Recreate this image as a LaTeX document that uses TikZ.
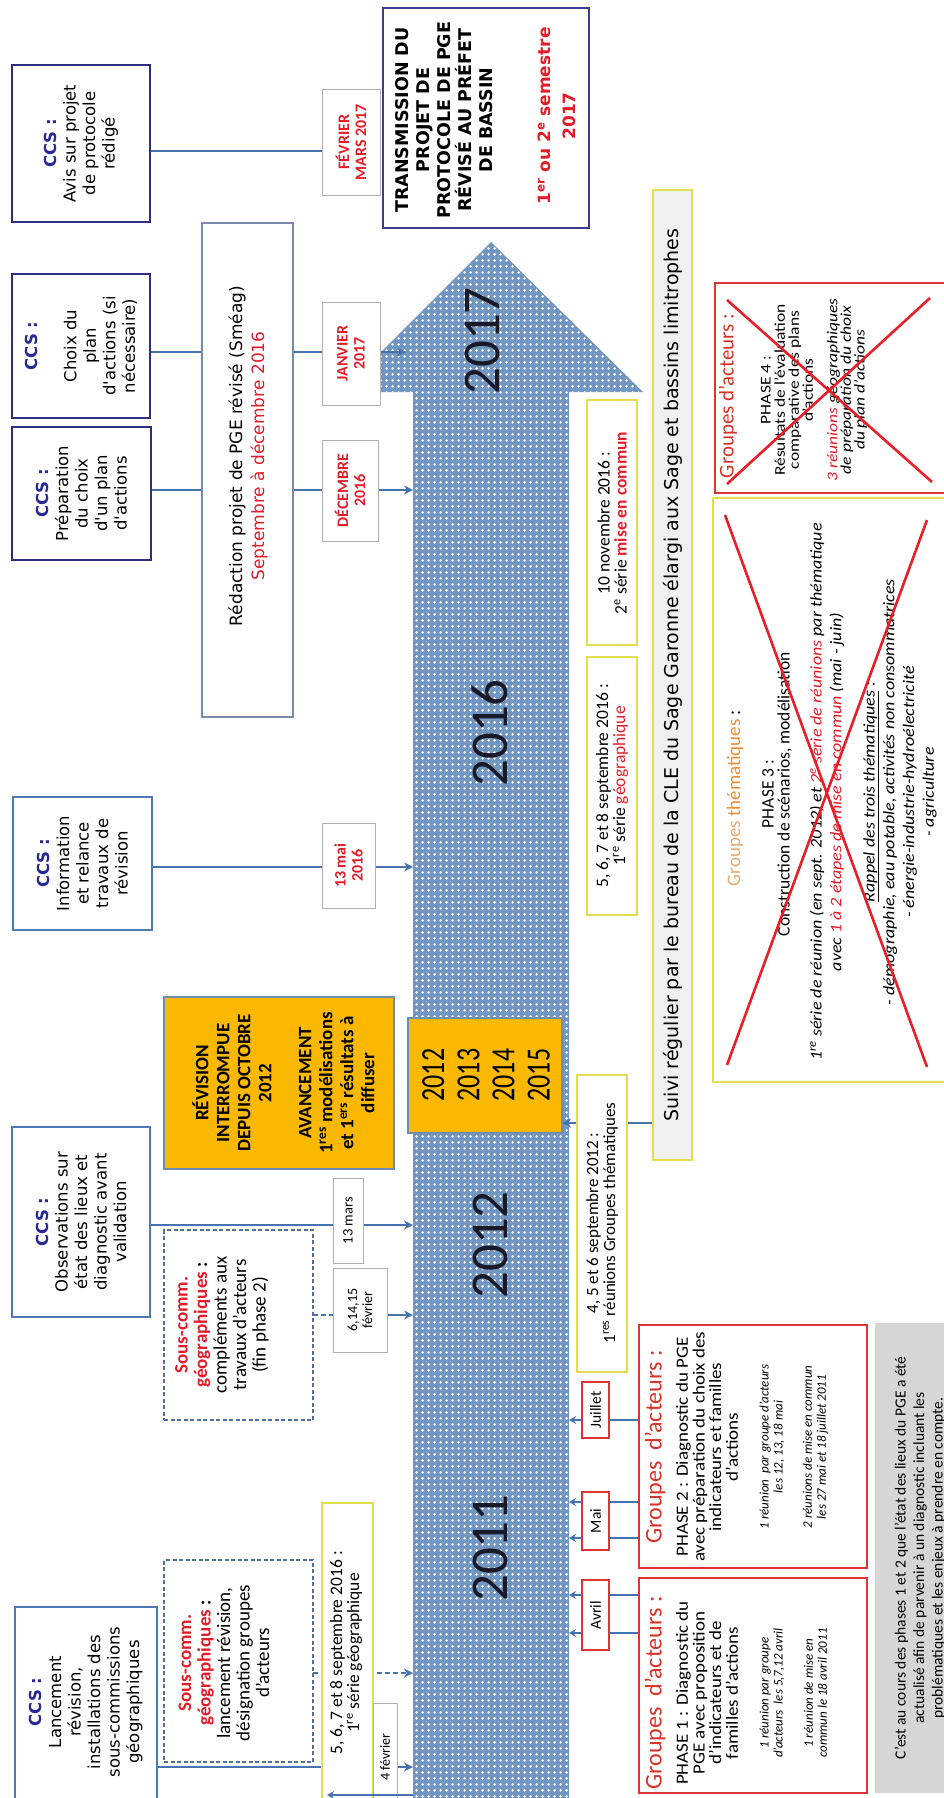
\documentclass[tikz,border=0pt]{standalone}
\usepackage{fontspec}
\setmainfont{Carlito}
\newfontfamily\djv{DejaVu Sans}
\usetikzlibrary{arrows.meta,patterns.meta}
\definecolor{ccsblue}{RGB}{40,40,150}
\definecolor{navyb}{RGB}{45,45,130}
\definecolor{steelb}{RGB}{79,120,180}
\definecolor{connc}{RGB}{70,115,175}
\definecolor{redtxt}{RGB}{228,28,40}
\definecolor{redb}{RGB}{222,52,52}
\definecolor{yelb}{RGB}{225,222,80}
\definecolor{orangef}{RGB}{250,185,0}
\definecolor{orb}{RGB}{110,140,180}
\definecolor{grayb}{RGB}{175,175,175}
\definecolor{titred}{RGB}{215,50,40}
\definecolor{phtan}{RGB}{230,170,110}
\definecolor{phor}{RGB}{238,140,50}
\definecolor{arrowblue}{RGB}{114,150,194}
\definecolor{yearc}{RGB}{25,25,40}
\definecolor{suivif}{RGB}{240,240,240}
\definecolor{notef}{RGB}{214,214,214}
\definecolor{redacb}{RGB}{120,140,170}
\definecolor{transb}{RGB}{60,60,140}
\definecolor{dashb}{RGB}{80,110,160}
\definecolor{xred}{RGB}{232,30,40}
\pgfdeclarelayer{back}
\pgfdeclarelayer{mid}
\pgfsetlayers{back,mid,main}
\tikzdeclarepattern{
  name=wdots,
  type=uncolored,
  bounding box={(0pt,0pt) and (6pt,6pt)},
  tile size={(6pt,6pt)},
  code={\fill (3pt,3pt) circle (1.6pt);}
}
\newcommand{\fs}[2]{\fontsize{#1}{#2}\selectfont\lineskiplimit=-100pt\relax}
\newcommand{\bx}[6]{\node[#2, minimum width={#5-#3}, minimum height={#6-#4}] (#1) at ({(#3+#5)/2},{(#4+#6)/2}) {};}
\tikzset{
  tx/.style={rotate=90, align=center, inner sep=0pt, text=black},
  bxs/.style={draw, inner sep=0pt, outer sep=0pt, fill=white},
  ccsbox/.style={bxs, draw=navyb, line width=2.4pt},
  ccsboxb/.style={bxs, draw=steelb, line width=2pt},
  datebox/.style={bxs, draw=grayb, line width=0.9pt},
  yelbox/.style={bxs, draw=yelb, line width=1.5pt},
  redbox/.style={bxs, draw=redb, line width=1.8pt},
  monthbox/.style={bxs, draw=redb, line width=1.4pt},
  orbox/.style={bxs, fill=orangef, draw=orb, line width=1.2pt},
  dashbox/.style={bxs, draw=dashb, line width=1.4pt, dash pattern=on 4pt off 2.5pt},
  conn/.style={draw=connc, line width=2pt},
  arr/.style={conn, -{Stealth[length=9pt,width=9pt]}},
  sarr/.style={conn, -{Stealth[length=7pt,width=8pt]}},
  dconn/.style={dash pattern=on 5pt off 3pt},
  xline/.style={draw=xred, line width=2.6pt},
  ccsf/.style={font=\djv\fs{16.5}{19.5}},
  yearf/.style={tx, text=yearc, font=\fs{53}{53}},
}
\begin{document}
\begin{tikzpicture}[x=1pt,y=-1pt]
\path[use as bounding box] (0,0) rectangle (944,1798);
\begin{pgfonlayer}{back}
\fill[white] (0,0) rectangle (944,1798);
\path[preaction={fill=arrowblue}, pattern=wdots, pattern color=white]
  (413,1798) -- (413,392) -- (341,392) -- (491,242) -- (643,392) -- (569,392) -- (569,1798) -- cycle;
\end{pgfonlayer}
\clip (0,0) rectangle (944,1798);
\coordinate (bodyL) at (413,0);
\coordinate (bodyR) at (569,0);
\coordinate (headL) at (406,352);
% years
\node[yearf] (y2017) at (482,341) {2017};
\node[yearf] (y2016) at (490,733) {2016};
\node[yearf] (y2012) at (490,1245) {2012};
\node[yearf] (y2011) at (490,1548) {2011};
% boxes
\bx{ccsA}{ccsbox}{12}{65}{150}{222}
\bx{ccsB}{ccsbox}{12}{274}{150}{418}
\bx{ccsC}{ccsbox}{12}{427}{151}{560}
\bx{ccsD}{ccsboxb}{13}{797}{152}{930}
\bx{ccsE}{ccsboxb}{12}{1127}{150}{1317}
\bx{ccsF}{ccsboxb}{15}{1607}{157}{1810}
\bx{redac}{bxs, draw=redacb, line width=1.2pt}{202}{223}{293}{717}
\bx{trans}{bxs, draw=transb, line width=1.6pt}{383}{8}{589}{228}
\bx{dFev}{datebox}{322}{89}{380}{195}
\bx{dJan}{datebox}{322}{302}{380}{405}
\bx{dDec}{datebox}{322}{440}{378}{541}
\bx{dMai}{datebox}{322}{823}{375}{908}
\bx{dMars}{datebox}{333}{1178}{363}{1263}
\bx{dFevB}{datebox}{333}{1268}{387}{1352}
\bx{orA}{orbox}{164}{997}{394}{1169}
\bx{orB}{orbox}{408}{1018}{562}{1133}
\bx{scA}{dashbox}{164}{1560}{313}{1762}
\bx{scB}{dashbox}{164}{1230}{313}{1420}
\bx{yA}{yelbox}{322}{1503}{373}{1810}
\bx{dFevC}{datebox}{373}{1703}{397}{1810}
\bx{yB}{yelbox}{587}{657}{637}{915}
\bx{yC}{yelbox}{587}{400}{637}{645}
\bx{yD}{yelbox}{577}{1075}{627}{1372}
\bx{suivi}{yelbox, fill=suivif}{653}{190}{692}{1160}
\bx{mAvr}{monthbox}{582}{1580}{609}{1650}
\bx{mMai}{monthbox}{582}{1492}{609}{1550}
\bx{mJui}{monthbox}{582}{1382}{609}{1438}
\bx{ph1}{redbox}{639}{1578}{867}{1793}
\bx{ph2}{redbox}{639}{1325}{867}{1568}
\bx{note}{bxs, draw=none, fill=notef}{875}{1323}{965}{1793}
\bx{ph3}{yelbox}{713}{498}{960}{1082}
\bx{ph4}{redbox}{715}{283}{960}{493}

% connectors, under the boxes
\begin{pgfonlayer}{mid}
\draw[conn] (ccsA.east |- 0,151) -- (dFev.west |- 0,151);
\draw[conn] (ccsB.east |- 0,352) -- (redac.west |- 0,352);
\draw[conn] (redac.east |- 0,352) -- (dJan.west |- 0,352);
\draw[arr] (dJan.east |- 0,352) -- (headL);
\draw[conn] (ccsC.east |- 0,490) -- (redac.west |- 0,490);
\draw[conn] (redac.east |- 0,490) -- (dDec.west |- 0,490);
\draw[arr] (dDec.east |- 0,490) -- (bodyL |- 0,490);
\draw[conn] (ccsD.east |- 0,867) -- (dMai.west |- 0,867);
\draw[arr] (dMai.east |- 0,867) -- (bodyL |- 0,867);
\draw[conn] (ccsE.east |- 0,1225) -- (dMars.west |- 0,1225);
\draw[arr] (dMars.east |- 0,1225) -- (bodyL |- 0,1225);
\draw[conn, dconn] (scB.east |- 0,1315) -- (dFevB.west |- 0,1315);
\draw[arr] (dFevB.east |- 0,1315) -- (bodyL |- 0,1315);
\draw[arr, dconn] (scA.east |- 0,1673) -- (bodyL |- 0,1673);
\draw[conn] (ccsF.east |- 0,1767) -- (dFevC.west |- 0,1767);
\draw[arr] (dFevC.east |- 0,1767) -- (bodyL |- 0,1767);
\draw[arr] (suivi.west |- 0,1123) -- (orB.east |- 0,1123);
\draw[sarr] (ph1.west |- 0,1595) -- (bodyR |- 0,1595);
\draw[sarr] (ph1.west |- 0,1633) -- (bodyR |- 0,1633);
\draw[sarr] (ph2.west |- 0,1502) -- (bodyR |- 0,1502);
\draw[sarr] (ph2.west |- 0,1538) -- (bodyR |- 0,1538);
\draw[sarr] (ph2.west |- 0,1420) -- (bodyR |- 0,1420);
\end{pgfonlayer}
\coordinate (botL) at (327,1795);
\draw[sarr] (bodyL |- botL) -- (botL);

% CCS texts
\node[tx, ccsf] (tA) at (ccsA) {{\color{ccsblue}\bfseries CCS :}\\Avis sur projet\\de protocole\\rédigé};
\node[tx, ccsf] (tB) at (ccsB) {{\color{ccsblue}\bfseries CCS :}\\[19.5pt]Choix du\\plan\\d'actions (si\\nécessaire)};
\node[tx, ccsf] (tC) at (ccsC) {{\color{ccsblue}\bfseries CCS :}\\Préparation\\du choix\\d'un plan\\d'actions};
\node[tx, ccsf] (tD) at (ccsD) {{\color{ccsblue}\bfseries CCS :}\\Information\\et relance\\travaux de\\révision};
\node[tx, ccsf] (tE) at (ccsE) {{\color{ccsblue}\bfseries CCS :}\\Observations sur\\état des lieux et\\diagnostic avant\\validation};
\node[tx, ccsf] (tF) at (86,1702) {{\color{ccsblue}\bfseries CCS :}\\Lancement\\révision,\\installations des\\sous-commissions\\géographiques};
% redaction
\node[tx, font=\djv\fs{17}{22}] (tRedac) at (248,456) {Rédaction projet de PGE révisé (Sméag)\\{\color{redtxt}Septembre à décembre 2016}};
% transmission
\node[tx, font=\djv\bfseries\fs{17.5}{21}] (tTrans) at (444,120) {TRANSMISSION DU\\PROJET DE\\PROTOCOLE DE PGE\\RÉVISÉ AU PRÉFET\\DE BASSIN};
\node[tx, text=redtxt, font=\djv\bfseries\fs{17}{25}] (tTrans2) at (557,116) {1\textsuperscript{er} ou 2\textsuperscript{e} semestre\\2017};
% date boxes
\node[tx, text=redtxt, font=\bfseries\fs{16}{17}] (tFev) at (dFev) {FÉVRIER\\MARS 2017};
\node[tx, text=redtxt, font=\bfseries\fs{16}{17}] (tJan) at (dJan) {JANVIER\\2017};
\node[tx, text=redtxt, font=\bfseries\fs{16}{17}] (tDec) at (dDec) {DÉCEMBRE\\2016};
\node[tx, text=redtxt, font=\bfseries\fs{16}{17}] (tMai) at (dMai) {13 mai\\2016};
\node[tx, font=\fs{14.5}{15}] (tMars) at (dMars) {13 mars};
\node[tx, font=\fs{14}{15}] (tFevB) at (dFevB) {6,14,15\\février};
\node[tx, font=\fs{14}{15}] (tFevC) at (385,1757) {4 février};
% orange
\node[tx, font=\bfseries\fs{19}{21}] (tOrA) at (283.5,1083) {RÉVISION\\INTERROMPUE\\DEPUIS OCTOBRE\\2012\\[19pt]AVANCEMENT\\1\textsuperscript{res} modélisations\\et 1\textsuperscript{ers} résultats à\\diffuser};
\node[tx, yscale=1.3, font=\fs{26}{27}] (tOrB) at (486,1075) {2012\\2013\\2014\\2015};
% sous-comm
\node[tx, font=\fs{19}{19.5}] (tScA) at (224,1663) {{\color{redtxt}\bfseries Sous-comm.}\\{\color{redtxt}\bfseries géographiques}\textbf{ :}\\lancement révision,\\désignation groupes\\d'acteurs};
\node[tx, font=\fs{19}{19.5}] (tScB) at (222,1325) {{\color{redtxt}\bfseries Sous-comm.}\\{\color{redtxt}\bfseries géographiques}\textbf{ :}\\compléments aux\\travaux d'acteurs\\(fin phase 2)};
% yellow boxes
\node[tx, font=\fs{17.5}{17}] (tYA) at (346,1653) {5, 6, 7 et 8 septembre 2016 :\\1\textsuperscript{re} série géographique};
\node[tx, font=\fs{17.5}{17}] (tYB) at (612,786) {5, 6, 7 et 8 septembre 2016 :\\1\textsuperscript{re} série {\color{redtxt}géographique}};
\node[tx, font=\fs{17.5}{17}] (tYC) at (612,523) {10 novembre 2016 :\\2\textsuperscript{e} série {\color{redtxt}\bfseries mise en commun}};
\node[tx, font=\fs{17}{17}] (tYD) at (602,1223) {4, 5 et 6 septembre 2012 :\\1\textsuperscript{res} réunions Groupes thématiques};
\node[tx, font=\djv\fs{19}{20}] (tSuivi) at (673,675) {Suivi régulier par le bureau de la CLE du Sage Garonne élargi aux Sage et bassins limitrophes};
% months
\node[tx, font=\fs{15.5}{16}] (tAvr) at (mAvr) {Avril};
\node[tx, font=\fs{15.5}{16}] (tMaiM) at (mMai) {Mai};
\node[tx, font=\fs{15.5}{16}] (tJui) at (mJui) {Juillet};
% phase 1
\node[tx, text=titred, font=\fs{24}{24}] (p1t) at (655,1693) {Groupes~~d'acteurs :};
\node[tx, yscale=0.9, font=\fs{19}{18.5}] (p1a) at (707,1693) {PHASE 1 : Diagnostic du\\PGE avec proposition\\d'indicateurs et de\\familles d'actions};
\node[tx, font=\itshape\fs{13}{14}] (p1b) at (772,1693) {1 réunion par groupe\\d'acteurs~ les 5,7,12 avril};
\node[tx, font=\itshape\fs{13}{14}] (p1c) at (815.5,1693) {1 réunion de mise en\\commun le 18 avril 2011};
% phase 2
\node[tx, text=titred, font=\fs{24}{24}] (p2t) at (655,1447) {Groupes~~d'acteurs :};
\node[tx, yscale=0.9, font=\fs{19}{18.5}] (p2a) at (707,1447) {PHASE 2 : Diagnostic du PGE\\avec préparation du choix des\\indicateurs et familles\\d'actions};
\node[tx, font=\itshape\fs{13}{14}] (p2b) at (772,1447) {1 réunion~ par groupe d'acteurs\\les 12, 13, 18 mai};
\node[tx, font=\itshape\fs{13}{14}] (p2c) at (815.5,1447) {2 réunions de mise en commun\\les 27 mai et 18 juillet 2011};
% note
\node[tx, font=\fs{15.5}{18.5}] (tNote) at (920,1558) {C'est au cours des phases 1 et 2 que l'état des lieux du PGE a été\\actualisé afin de parvenir à un diagnostic incluant les\\problématiques et les enjeux à prendre en compte.};
% phase 3
\node[tx, font=\fs{19}{19}] (p3t) at (735,798) {{\color{phtan}Groupes} {\color{phor}thématiques} :};
\node[tx, font=\fs{17.5}{16}] (p3a) at (777,794) {PHASE 3 :\\Construction de scénarios, modélisation};
\node[tx, yscale=0.9, font=\itshape\fs{18}{22}] (p3b) at (827,792) {1\textsuperscript{re} série de réunion (en sept. 2012) et {\color{redtxt}2\textsuperscript{e} série de réunions} par thématique\\avec {\color{redtxt}1 à 2 étapes de mise en commun} (mai - juin)};
\node[tx, yscale=0.9, font=\itshape\fs{18}{22}] (p3c) at (900,792) {\underline{Rappel des trois thématiques} :\\- démographie, eau potable, activités non consommatrices\\- énergie-industrie-hydroélectricité\\- agriculture};
% phase 4
\node[tx, text=titred, font=\fs{21}{21}] (p4t) at (728,396) {Groupes d'acteurs :};
\node[tx, yscale=0.85, font=\fs{17.5}{16.5}] (p4a) at (787,390) {PHASE 4 :\\Résultats de l'évaluation\\comparative des plans\\d'actions};
\node[tx, yscale=0.85, font=\itshape\fs{17.5}{16}] (p4b) at (847,390) {{\color{redtxt}3 réunions} géographiques\\de préparation du choix\\du plan d'actions};
% crosses
\draw[xline] (727,300) -- (932,482);
\draw[xline] (930,298) -- (727,484);
\draw[xline] (725,515) -- (927,1067);
\draw[xline] (927,520) -- (727,1065);
\end{tikzpicture}
\end{document}
